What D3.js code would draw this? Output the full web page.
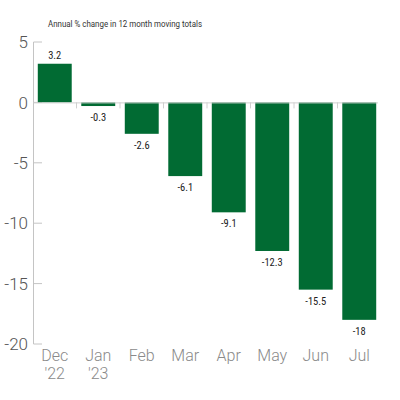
<!DOCTYPE html>
<html>
<head>
<meta charset="utf-8">
<script src="https://cdn.jsdelivr.net/npm/d3@7"></script>
<style>
  body { margin: 0; background: #fff; }
  svg { display: block; }
</style>
</head>
<body>
<svg width="400" height="400"></svg>
<script>
const months = ["Dec", "Jan", "Feb", "Mar", "Apr", "May", "Jun", "Jul"]
const years = ["'22", "'23", "", "", "", "", "", ""]
const changes = [3.2, -0.3, -2.6, -6.1, -9.1, -12.3, -15.5, -18]
const yTicks = [5, 0, -5, -10, -15, -20]
const title = "Annual % change in 12 month moving totals"

const svg = d3.select("svg")

const x = d3.scaleBand()
  .domain(months)
  .range([33, 381])
  .paddingInner(0.22)
  .paddingOuter(0.11)

const y = d3.scaleLinear().domain([-20, 5]).range([344, 42])

// y axis: line + ticks pointing inward
const yAxis = svg.append("g")
yAxis.append("line")
  .attr("x1", 33.5).attr("x2", 33.5)
  .attr("y1", y(5)).attr("y2", y(-20))
  .attr("stroke", "#c4c4c4").attr("stroke-width", 1)
yAxis.selectAll(".ytick")
  .data(yTicks)
  .enter()
  .append("line")
  .attr("x1", 33.5).attr("x2", 42)
  .attr("y1", d => y(d)).attr("y2", d => y(d))
  .attr("stroke", "#c4c4c4")
yAxis.selectAll(".ylabel")
  .data(yTicks)
  .enter()
  .append("text")
  .attr("x", 28)
  .attr("y", d => y(d))
  .attr("dy", "0.36em")
  .attr("text-anchor", "end")
  .style("font-family", "Roboto")
  .style("font-weight", 300)
  .style("font-size", "17px")
  .style("fill", "#555")
  .text(d => d)

// bars
svg.selectAll(".bar")
  .data(changes)
  .enter()
  .append("rect")
  .attr("x", (d, i) => x(months[i]))
  .attr("width", x.bandwidth())
  .attr("y", d => y(Math.max(0, d)))
  .attr("height", d => Math.abs(y(d) - y(0)))
  .attr("fill", "#016b33")

// zero line with ticks between bands
const step = x.step()
svg.append("line")
  .attr("x1", 33.5).attr("x2", 378)
  .attr("y1", y(0) + 0.5).attr("y2", y(0) + 0.5)
  .attr("stroke", "#d0d0d0")
svg.selectAll(".xtick")
  .data(months.slice(1))
  .enter()
  .append("line")
  .attr("x1", d => x(d) - step * x.paddingInner() / 2)
  .attr("x2", d => x(d) - step * x.paddingInner() / 2)
  .attr("y1", y(0)).attr("y2", y(0) + 6)
  .attr("stroke", "#d0d0d0")

// value labels
svg.selectAll(".val")
  .data(changes)
  .enter()
  .append("text")
  .attr("x", (d, i) => x(months[i]) + x.bandwidth() / 2)
  .attr("y", d => d >= 0 ? y(d) - 5 : y(d) + 15)
  .attr("text-anchor", "middle")
  .style("font-family", "Roboto Condensed, Roboto")
  .style("font-size", "10.5px")
  .style("fill", "#222")
  .text(d => d)

// x labels
const xl = svg.selectAll(".xlab")
  .data(months)
  .enter()
  .append("text")
  .attr("x", d => x(d) + x.bandwidth() / 2)
  .attr("y", 361)
  .attr("text-anchor", "middle")
  .style("font-family", "Roboto")
  .style("font-weight", 300)
  .style("font-size", "16px")
  .style("fill", "#8a8a8a")
xl.append("tspan").text(d => d)
xl.append("tspan")
  .attr("x", d => x(d) + x.bandwidth() / 2)
  .attr("dy", 18)
  .text((d, i) => years[i])

// title
svg.append("text")
  .attr("x", 48)
  .attr("y", 27)
  .attr("textLength", 154)
  .attr("lengthAdjust", "spacingAndGlyphs")
  .style("font-family", "Roboto")
  .style("font-size", "9.5px")
  .style("fill", "#333")
  .text(title)
</script>
</body>
</html>
